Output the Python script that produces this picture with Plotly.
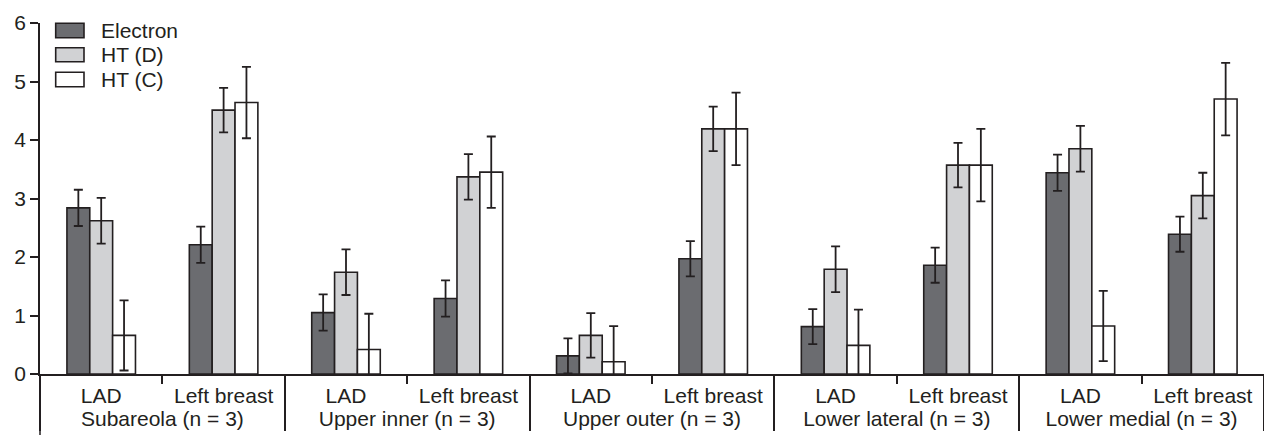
import plotly.graph_objects as go

groups = ["Subareola (n = 3)", "Upper inner (n = 3)", "Upper outer (n = 3)",
          "Lower lateral (n = 3)", "Lower medial (n = 3)"]
sites = ["LAD", "Left breast"]

electron = [2.84, 2.21, 1.05, 1.29, 0.31, 1.97, 0.81, 1.86, 3.44, 2.39]
electron_err = [0.31, 0.31, 0.31, 0.31, 0.30, 0.30, 0.30, 0.30, 0.31, 0.30]
htd = [2.62, 4.51, 1.74, 3.37, 0.66, 4.19, 1.79, 3.57, 3.85, 3.05]
htd_err = [0.39, 0.38, 0.39, 0.39, 0.38, 0.38, 0.39, 0.38, 0.39, 0.39]
htc = [0.66, 4.64, 0.42, 3.45, 0.21, 4.19, 0.49, 3.57, 0.82, 4.70]
htc_err = [0.60, 0.61, 0.61, 0.61, 0.61, 0.62, 0.61, 0.62, 0.60, 0.62]

series_names = ["Electron", "HT (D)", "HT (C)"]
series_colors = ["#6b6c70", "#d1d2d4", "#ffffff"]

INK = "#231f20"
FONT = "Liberation Sans, Arial, sans-serif"

# page body has an 8px margin; figure sized so it fills the 1272x435 window
OFF = 8
W, H = 1272 - 2 * OFF, 435 - OFF
ML, MR, MT, MB = 40 - OFF, 0, 23 - OFF, (435 - OFF) - (374 - OFF)
PW, PH = W - ML - MR, H - MT - MB

x_multi = [[g for g in groups for _ in sites], [s for _ in groups for s in sites]]

fig = go.Figure()
for name, vals, errs, col in zip(series_names, [electron, htd, htc],
                                 [electron_err, htd_err, htc_err], series_colors):
    fig.add_trace(go.Bar(
        x=x_multi, y=vals, name=name,
        marker=dict(color=col, line=dict(color=INK, width=1.6)),
        error_y=dict(type="data", array=errs, color=INK, thickness=1.8, width=4.5),
        showlegend=False,
    ))


def px(xp):
    return (xp - OFF - ML) / PW


def py(yp):
    return (H - MB - (yp - OFF)) / PH


shapes = []
annotations = []
# manual legend (wide boxes like the reference)
legend_rows = [(23.3, 37.7), (47.7, 61.7), (72.3, 86.7)]
for (y0, y1), name, col in zip(legend_rows, series_names, series_colors):
    shapes.append(dict(type="rect", xref="paper", yref="paper",
                       x0=px(55.7), x1=px(84), y0=py(y1), y1=py(y0),
                       fillcolor=col, line=dict(color=INK, width=1.6)))
    annotations.append(dict(xref="paper", yref="paper", x=px(99), y=py((y0 + y1) / 2),
                            text=name, showarrow=False, xanchor="left", yanchor="middle",
                            font=dict(family=FONT, size=21, color=INK)))

# y axis line extends below the x axis
shapes.append(dict(type="line", xref="paper", yref="paper", x0=0, x1=0,
                   y0=0, y1=-MB / PH, line=dict(color=INK, width=1.5)))

fig.update_layout(
    width=W, height=H,
    margin=dict(l=ML, r=MR, t=MT, b=MB),
    paper_bgcolor="white", plot_bgcolor="white",
    barmode="group", bargap=0.44, bargroupgap=0,
    font=dict(family=FONT, size=21, color=INK),
    shapes=shapes, annotations=annotations,
    xaxis=dict(type="multicategory", showline=True, linecolor=INK, linewidth=1.5,
               ticks="outside", ticklen=8, tickcolor=INK, tickwidth=1.5,
               showdividers=True, dividercolor=INK, dividerwidth=1.5,
               showgrid=False, zeroline=False, range=[-0.5, 9.5], automargin=False,
               ticklabelstandoff=2,
               tickfont=dict(family=FONT, size=21, color=INK)),
    yaxis=dict(range=[0, 6], dtick=1, showline=True, linecolor=INK, linewidth=1.5,
               ticks="outside", ticklen=8, tickcolor=INK, tickwidth=1.5,
               showgrid=False, zeroline=False, automargin=False,
               tickfont=dict(family=FONT, size=21, color=INK)),
)

fig.write_html("out.html")
